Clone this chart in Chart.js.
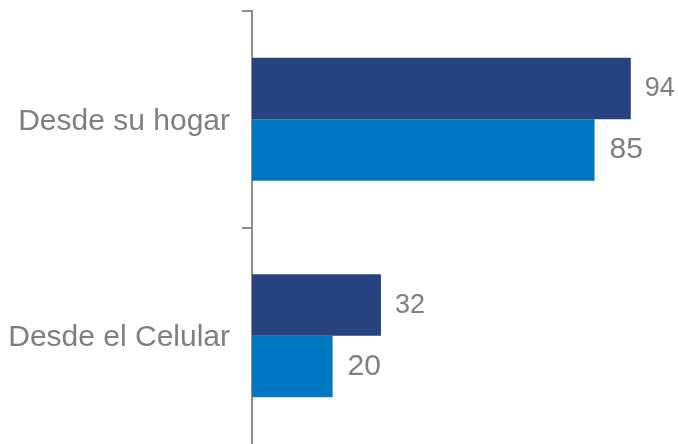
<!DOCTYPE html>
<html>
<head>
<meta charset="utf-8">
<script src="https://cdn.jsdelivr.net/npm/chart.js@4"></script>
<style>
  html, body { margin: 0; padding: 0; background: #fff; }
  #wrap { width: 678px; height: 444px; }
</style>
</head>
<body>
<div id="wrap"><canvas id="c"></canvas></div>
<script>
// datos
const categories = ['Desde su hogar', 'Desde el Celular'];
const serieOscura = [94, 32];
const serieClara = [85, 20];

const colorOscuro = '#264380';
const colorClaro = '#0078C1';
const gris = '#7f7f7f';
const gisEje = '#8c8c8c';
const fuente = '"Liberation Sans", Arial, sans-serif';

// etiquetas de valor al final de cada barra
const valueLabels = {
  id: 'valueLabels',
  afterDatasetsDraw(chart) {
    const ctx = chart.ctx;
    ctx.save();
    ctx.fillStyle = gris;
    ctx.textBaseline = 'middle';
    ctx.textAlign = 'left';
    chart.data.datasets.forEach((ds, i) => {
      const meta = chart.getDatasetMeta(i);
      ctx.font = (i === 0 ? 27 : 30) + 'px ' + fuente;
      meta.data.forEach((bar, j) => {
        ctx.fillText(ds.data[j], bar.x + (i === 0 ? 14 : 15), bar.y);
      });
    });
    ctx.restore();
  }
};

new Chart(document.getElementById('c'), {
  type: 'bar',
  data: {
    labels: categories,
    datasets: [
      { data: serieOscura, backgroundColor: colorOscuro },
      { data: serieClara, backgroundColor: colorClaro }
    ]
  },
  options: {
    indexAxis: 'y',
    responsive: true,
    maintainAspectRatio: false,
    animation: false,
    layout: { padding: { top: 11, right: 23, bottom: 0, left: 0 } },
    datasets: { bar: { barPercentage: 1, categoryPercentage: 0.567 } },
    plugins: { legend: { display: false }, tooltip: { enabled: false } },
    scales: {
      x: { display: false, min: 0, max: 100 },
      y: {
        afterFit(scale) {
          scale.width = 252;
          scale.paddingTop = 0;
          scale.paddingBottom = 0;
        },
        border: { display: true, color: gisEje, width: 2 },
        grid: {
          drawOnChartArea: false,
          color: gisEje,
          // la marca inferior no se ve en el original
          tickColor: (c) => c.type === 'tick' ? gisEje : 'rgba(0,0,0,0)',
          lineWidth: 2,
          tickLength: 10
        },
        ticks: {
          color: gris,
          padding: 12,
          labelOffset: 2,
          font: { family: fuente, size: 30 }
        }
      }
    }
  },
  plugins: [valueLabels]
});
</script>
</body>
</html>
